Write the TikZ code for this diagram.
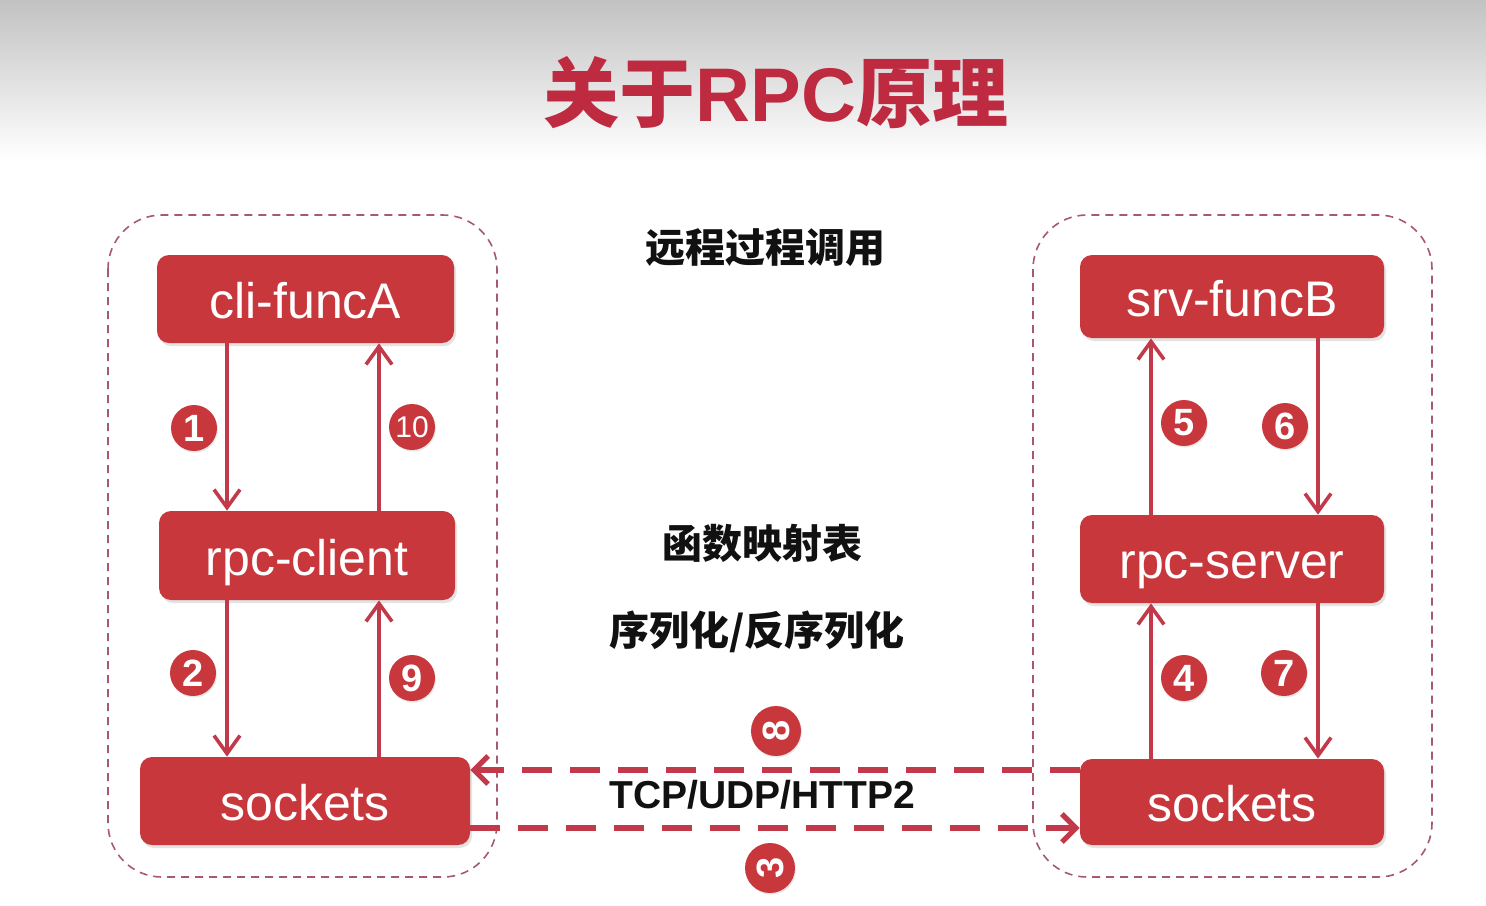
\documentclass[tikz,border=0pt]{standalone}
\usepackage{fontspec}
\setmainfont{Liberation Sans}
\newfontfamily\cjk{Noto Sans CJK SC}
\usetikzlibrary{arrows.meta,shadows}
\definecolor{boxred}{HTML}{C8373B}
\definecolor{arrred}{HTML}{C23A4A}
\definecolor{titred}{HTML}{BE2A40}
\definecolor{framecol}{HTML}{A65A6C}
\definecolor{topgray}{HTML}{C2C2C2}
\definecolor{inkblack}{HTML}{111111}

\begin{document}
\begin{tikzpicture}[x=0.5pt,y=-0.5pt,
  stepbox/.style={fill=boxred, rounded corners=6pt, text=white, inner sep=0pt,
    font=\fontsize{25}{28}\selectfont, text height=19.5pt, text depth=0pt,
    drop shadow={opacity=0.22, shadow xshift=1pt, shadow yshift=-1.5pt}},
  group/.style={draw=framecol, line width=0.8pt, dash pattern=on 4pt off 3pt, rounded corners=27pt},
  flow/.style={draw=arrred, line width=1.8pt, -{Straight Barb[length=9pt,width=13pt]}},
  link/.style={draw=arrred, line width=2.6pt, dash pattern=on 15pt off 9pt,
    -{Straight Barb[length=7pt,width=14pt]}},
  num/.style={circle, fill=boxred, minimum size=23pt, inner sep=0pt, text=white,
    font=\fontsize{19}{20}\selectfont\bfseries,
    drop shadow={opacity=0.18, shadow xshift=0.5pt, shadow yshift=-0.8pt}},
  label/.style={text=inkblack, font=\fontsize{20}{22}\selectfont\cjk\bfseries}
]
\useasboundingbox (0,0) rectangle (1486,905);
\fill[white] (0,0) rectangle (1486,905);
% grey band behind the heading
\shade[top color=topgray, bottom color=white] (0,0) rectangle (1486,160);

% heading
\node[text=titred, font=\fontsize{38}{40}\selectfont\bfseries] (title) at (776,93)
  {{\cjk 关于}RPC{\cjk 原理}};

% client and server groups
\draw[group] (108,215) rectangle (497,877);
\draw[group] (1033,215) rectangle (1432,877);

% client side
\node[stepbox, minimum width=148.5pt, minimum height=44pt] (cliA) at (305.5,299) {cli-funcA};
\node[stepbox, minimum width=148pt, minimum height=44.5pt] (rpcc) at (307,555.5) {rpc-client};
\node[stepbox, minimum width=165pt, minimum height=44pt] (sockL) at (305,801) {sockets};

% server side
\node[stepbox, minimum width=152pt, minimum height=41.5pt] (srvB) at (1232,296.5) {srv-funcB};
\node[stepbox, minimum width=152pt, minimum height=44pt] (rpcs) at (1232,559) {rpc-server};
\node[stepbox, minimum width=152pt, minimum height=43pt] (sockR) at (1232,802) {sockets};

% middle labels
\node[label] (remote) at (765,248) {远程过程调用};
\node[label] (table) at (762,543) {函数映射表};
\node[label] (serial) at (757,632) {序列化/反序列化};
\node[text=inkblack, font=\fontsize{19.5}{20}\selectfont\bfseries] (proto) at (762,795) {TCP/UDP/HTTP2};

% vertical guide positions
\coordinate (cl) at (227,0);
\coordinate (cr) at (379,0);
\coordinate (sl) at (1151,0);
\coordinate (sr) at (1318,0);
\coordinate (upper) at (0,770);
\coordinate (lower) at (0,828);

% client calls
\draw[flow] (cliA.south -| cl) -- (rpcc.north -| cl);
\draw[flow] (rpcc.north -| cr) -- (cliA.south -| cr);
\draw[flow] (rpcc.south -| cl) -- (sockL.north -| cl);
\draw[flow] (sockL.north -| cr) -- (rpcc.south -| cr);

% server calls
\draw[flow] (rpcs.north -| sl) -- (srvB.south -| sl);
\draw[flow] (srvB.south -| sr) -- (rpcs.north -| sr);
\draw[flow] (sockR.north -| sl) -- (rpcs.south -| sl);
\draw[flow] (rpcs.south -| sr) -- (sockR.north -| sr);

% network transfer
\draw[link] (sockR.west |- upper) -- (sockL.east |- upper);
\draw[link] (sockL.east |- lower) -- (sockR.west |- lower);

% step numbers
\node[num] (n1) at (194,428) {1};
\node[num, font=\fontsize{15}{16}\selectfont] (n10) at (412,427) {10};
\node[num] (n2) at (193,673) {2};
\node[num] (n9) at (412,678) {9};
\node[num] (n5) at (1184,423) {5};
\node[num] (n6) at (1285,426) {6};
\node[num] (n4) at (1184,678) {4};
\node[num] (n7) at (1284,673) {7};
\node[num, minimum size=25pt] (n8) at (776,731) {\rotatebox{90}{8}};
\node[num, minimum size=25pt] (n3) at (770,868) {\rotatebox{90}{3}};
\end{tikzpicture}
\end{document}
